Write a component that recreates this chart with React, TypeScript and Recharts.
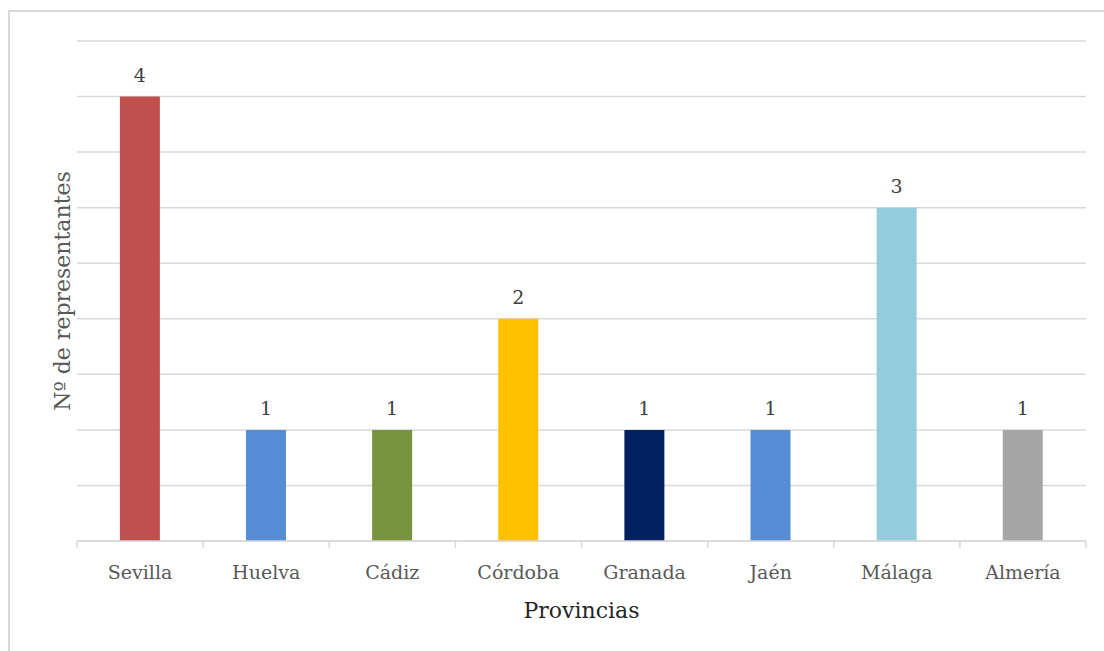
import React from "react";
import {
  BarChart,
  Bar,
  XAxis,
  YAxis,
  CartesianGrid,
  Cell,
  LabelList,
} from "recharts";

const provincias = ["Sevilla", "Huelva", "Cádiz", "Córdoba", "Granada", "Jaén", "Málaga", "Almería"];
const representantes = [4, 1, 1, 2, 1, 1, 3, 1];
const colores = ["#C0504D", "#558ED5", "#77933C", "#FFC000", "#002060", "#558ED5", "#93CDDD", "#A6A6A6"];
const yTicks = [0, 0.5, 1, 1.5, 2, 2.5, 3, 3.5, 4, 4.5];

const data = provincias.map((p, i) => ({ provincia: p, valor: representantes[i] }));

const FONT = "'DejaVu Serif', serif";
const CHART_W = 1104;
const CHART_H = 651;
const MARGIN = { top: 41, right: 18, left: 0, bottom: 80 };
const Y_W = 77;
const BAND = (CHART_W - MARGIN.right - Y_W) / provincias.length;

function CategoryTick(props: any) {
  const { x, y, payload, index } = props;
  const left = x - BAND / 2;
  return (
    <g>
      <line x1={left} y1={y - 8} x2={left} y2={y - 1} stroke="#D9D9D9" strokeWidth={1.5} />
      {index === provincias.length - 1 && (
        <line x1={left + BAND} y1={y - 8} x2={left + BAND} y2={y - 1} stroke="#D9D9D9" strokeWidth={1.5} />
      )}
      <text x={x} y={y + 30} textAnchor="middle" fill="#595959" fontSize={19} fontFamily={FONT}>
        {payload.value}
      </text>
    </g>
  );
}

function NoTick() {
  return <g />;
}

function YTitle(props: any) {
  const { viewBox } = props;
  const cx = 62;
  const cy = viewBox.y + viewBox.height / 2;
  return (
    <text
      x={cx}
      y={cy}
      transform={`rotate(-90, ${cx}, ${cy})`}
      textAnchor="middle"
      dominantBaseline="central"
      fill="#595959"
      fontSize={22}
      fontFamily={FONT}
    >
      Nº de representantes
    </text>
  );
}

function XTitle(props: any) {
  const { viewBox } = props;
  const cx = viewBox.x + viewBox.width / 2;
  return (
    <text x={cx} y={618} textAnchor="middle" fill="#262626" fontSize={22} fontFamily={FONT}>
      Provincias
    </text>
  );
}

export default function App() {
  return (
    <div style={{ position: "absolute", left: 0, top: 0, width: CHART_W, height: CHART_H, background: "#fff" }}>
      <div
        style={{
          position: "absolute",
          left: 8,
          top: 10,
          width: CHART_W - 8,
          height: CHART_H - 10,
          borderLeft: "2px solid #D9D9D9",
          borderTop: "2px solid #D9D9D9",
          boxSizing: "border-box",
        }}
      />
      <div style={{ position: "absolute", left: 0, top: 0 }}>
        <BarChart width={CHART_W} height={CHART_H} data={data} margin={MARGIN} barCategoryGap="34%">
          <CartesianGrid vertical={false} stroke="#D9D9D9" strokeWidth={1.5} />
          <XAxis
            dataKey="provincia"
            height={30}
            axisLine={{ stroke: "#D9D9D9", strokeWidth: 1.5 }}
            tickLine={false}
            tick={<CategoryTick />}
            interval={0}
            label={<XTitle />}
          />
          <YAxis
            width={Y_W}
            type="number"
            domain={[0, 4.5]}
            ticks={yTicks}
            interval={0}
            tick={<NoTick />}
            axisLine={false}
            tickLine={false}
            label={<YTitle />}
          />
          <Bar dataKey="valor" isAnimationActive={false}>
            {data.map((d, i) => (
              <Cell key={d.provincia} fill={colores[i]} />
            ))}
            <LabelList dataKey="valor" position="top" offset={15} fill="#404040" fontSize={19} fontFamily={FONT} />
          </Bar>
        </BarChart>
      </div>
    </div>
  );
}
